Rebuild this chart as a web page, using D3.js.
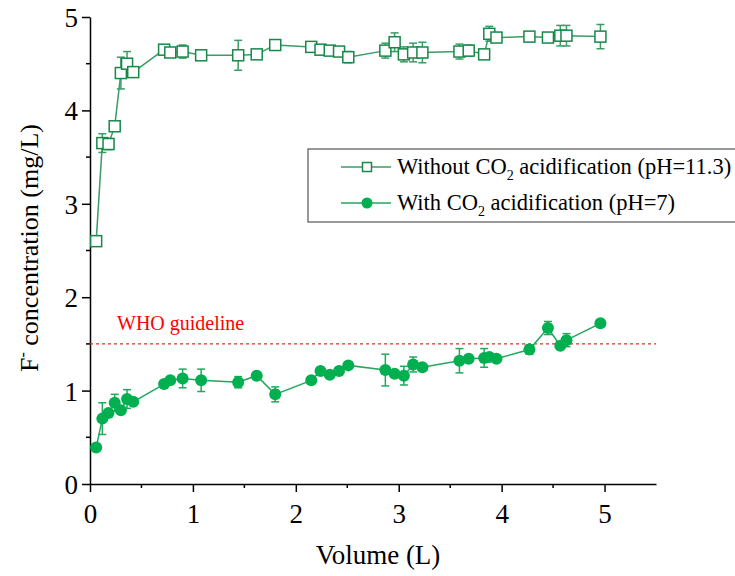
<!DOCTYPE html>
<html>
<head>
<meta charset="utf-8">
<script src="https://cdn.jsdelivr.net/npm/d3@7"></script>
<style>
  body { margin: 0; background: #fff; }
  text { font-family: "Liberation Serif", "Times New Roman", serif; }
</style>
</head>
<body>
<div id="myDiv"></div>
<script>
//Data
var volume = [0.06, 0.12, 0.18, 0.24, 0.30, 0.36, 0.42, 0.72, 0.78, 0.90, 1.08, 1.44, 1.62, 1.80,
  2.15, 2.24, 2.33, 2.42, 2.51, 2.87, 2.96, 3.05, 3.14, 3.23, 3.59, 3.68, 3.83, 3.88, 3.95,
  4.27, 4.45, 4.57, 4.63, 4.96];
var withoutCO2 = [2.60, 3.65, 3.64, 3.83, 4.40, 4.50, 4.41, 4.65, 4.62, 4.63, 4.59, 4.59, 4.60, 4.70,
  4.68, 4.65, 4.64, 4.63, 4.57, 4.64, 4.73, 4.60, 4.62, 4.62, 4.63, 4.64, 4.60, 4.82, 4.78,
  4.79, 4.78, 4.80, 4.80, 4.79];
var withoutErr = [0.02, 0.10, 0.06, 0.03, 0.17, 0.13, 0.04, 0.04, 0.05, 0.07, 0.03, 0.16, 0.05, 0.03,
  0.04, 0.04, 0.04, 0.03, 0.06, 0.08, 0.10, 0.08, 0.10, 0.11, 0.08, 0.06, 0.04, 0.08, 0.05,
  0.03, 0.04, 0.11, 0.11, 0.13];
var withCO2 = [0.39, 0.70, 0.76, 0.87, 0.79, 0.91, 0.88, 1.07, 1.11, 1.13, 1.11, 1.09, 1.16, 0.96,
  1.11, 1.21, 1.17, 1.21, 1.27, 1.22, 1.18, 1.16, 1.28, 1.25, 1.32, 1.34, 1.35, 1.36, 1.34,
  1.44, 1.67, 1.48, 1.54, 1.72];
var withErr = [0.03, 0.17, 0.03, 0.09, 0.03, 0.10, 0.03, 0.03, 0.03, 0.10, 0.12, 0.06, 0.03, 0.08,
  0.03, 0.03, 0.03, 0.03, 0.03, 0.17, 0.03, 0.10, 0.08, 0.03, 0.13, 0.03, 0.10, 0.03, 0.03,
  0.05, 0.07, 0.03, 0.07, 0.03];
var xTicks = [0, 1, 2, 3, 4, 5];
var yTicks = [0, 1, 2, 3, 4, 5];
var whoLimit = 1.5;
var legendLabels = ["Without CO", "With CO"];
var legendTails = [" acidification (pH=11.3)", " acidification (pH=7)"];

//Width and height
var w = 735;
var h = 576;
var sqColor = "#17874a";
var sqLine = "#3a9d66";
var ciColor = "#00b050";
var ciLine = "#22a85c";

var svg = d3.select("#myDiv")
  .append("svg")
  .attr("width", w)
  .attr("height", h);

var x = d3.scaleLinear().domain([0, 5.5]).range([90, 656]);
var y = d3.scaleLinear().domain([0, 5]).range([484, 17]);

//Axes with minor ticks
var xMinor = d3.range(0.5, 5.5, 1);
var yMinor = d3.range(0.5, 5, 1);

var gx = svg.append("g").attr("transform", "translate(0," + y(0) + ")");
gx.call(d3.axisBottom(x).tickValues(xTicks).tickSize(8).tickSizeOuter(0).tickFormat(d3.format("d")));
gx.selectAll(".minor").data(xMinor).enter().append("line")
  .attr("x1", function(d) { return x(d); })
  .attr("x2", function(d) { return x(d); })
  .attr("y1", 0).attr("y2", 4)
  .attr("stroke", "#000").attr("stroke-width", 1.5);

var gy = svg.append("g").attr("transform", "translate(" + x(0) + ",0)");
gy.call(d3.axisLeft(y).tickValues(yTicks).tickSize(8).tickSizeOuter(0).tickFormat(d3.format("d")));
gy.selectAll(".minor").data(yMinor).enter().append("line")
  .attr("y1", function(d) { return y(d); })
  .attr("y2", function(d) { return y(d); })
  .attr("x1", 0).attr("x2", -4)
  .attr("stroke", "#000").attr("stroke-width", 1.5);

svg.selectAll(".domain").attr("stroke", "#000").attr("stroke-width", 1.5);
svg.selectAll(".tick line").attr("stroke", "#000").attr("stroke-width", 1.5);
svg.selectAll(".tick text")
  .attr("font-family", "Liberation Serif")
  .attr("font-size", 27)
  .attr("fill", "#000");
gx.selectAll(".tick text").attr("dy", "1.05em");
gy.selectAll(".tick text").attr("x", -12).attr("dy", "0.35em");

//Axis titles
svg.append("text")
  .attr("x", x(2.75) + 5)
  .attr("y", 564)
  .attr("text-anchor", "middle")
  .attr("font-size", 27)
  .text("Volume (L)");

var yt = svg.append("text")
  .attr("transform", "translate(38," + 248 + ") rotate(-90)")
  .attr("text-anchor", "middle")
  .attr("font-size", 26);
yt.append("tspan").text("F");
yt.append("tspan").attr("dy", -10).attr("font-size", 16).text("-");
yt.append("tspan").attr("dy", 10).text(" concentration (mg/L)");

//WHO guideline
svg.append("line")
  .attr("x1", x(0)).attr("x2", x(5.5))
  .attr("y1", y(whoLimit)).attr("y2", y(whoLimit))
  .attr("stroke", "#e0302a")
  .attr("stroke-width", 1.2)
  .attr("stroke-dasharray", "3,3");
svg.append("text")
  .attr("x", 117).attr("y", 330)
  .attr("font-size", 20)
  .attr("fill", "#ff0000")
  .text("WHO guideline");

//Draw one series with error bars
function drawSeries(values, errs, lineColor, markColor, isSquare) {
  var pts = volume.map(function(v, i) { return {x: v, y: values[i], e: errs[i]}; });
  svg.append("path")
    .datum(pts)
    .attr("fill", "none")
    .attr("stroke", lineColor)
    .attr("stroke-width", 1.5)
    .attr("d", d3.line().x(function(d) { return x(d.x); }).y(function(d) { return y(d.y); }));

  var eb = svg.append("g").attr("stroke", lineColor).attr("stroke-width", 1.5);
  eb.selectAll(".v").data(pts).enter().append("line")
    .attr("x1", function(d) { return x(d.x); })
    .attr("x2", function(d) { return x(d.x); })
    .attr("y1", function(d) { return y(d.y - d.e); })
    .attr("y2", function(d) { return y(d.y + d.e); });
  [1, -1].forEach(function(s) {
    eb.selectAll(".c" + s).data(pts).enter().append("line")
      .attr("x1", function(d) { return x(d.x) - 4; })
      .attr("x2", function(d) { return x(d.x) + 4; })
      .attr("y1", function(d) { return y(d.y + s * d.e); })
      .attr("y2", function(d) { return y(d.y + s * d.e); });
  });

  if (isSquare) {
    svg.selectAll(".sq").data(pts).enter().append("rect")
      .attr("x", function(d) { return x(d.x) - 5.5; })
      .attr("y", function(d) { return y(d.y) - 5.5; })
      .attr("width", 11).attr("height", 11)
      .attr("fill", "#fff")
      .attr("stroke", markColor)
      .attr("stroke-width", 1.5);
  } else {
    svg.selectAll(".ci").data(pts).enter().append("circle")
      .attr("cx", function(d) { return x(d.x); })
      .attr("cy", function(d) { return y(d.y); })
      .attr("r", 6)
      .attr("fill", markColor);
  }
}

drawSeries(withoutCO2, withoutErr, sqLine, sqColor, true);
drawSeries(withCO2, withErr, ciLine, ciColor, false);

//Legend
svg.append("rect")
  .attr("x", 308).attr("y", 149)
  .attr("width", 440).attr("height", 73)
  .attr("fill", "#fff")
  .attr("stroke", "#555")
  .attr("stroke-width", 1.2);

var ly = [167, 203];
ly.forEach(function(yy, i) {
  svg.append("line")
    .attr("x1", 341).attr("x2", 391)
    .attr("y1", yy).attr("y2", yy)
    .attr("stroke", i == 0 ? sqLine : ciLine)
    .attr("stroke-width", 1.5);
  if (i == 0) {
    svg.append("rect")
      .attr("x", 362.5).attr("y", yy - 4.5)
      .attr("width", 9).attr("height", 9)
      .attr("fill", "#fff")
      .attr("stroke", sqColor)
      .attr("stroke-width", 1.5);
  } else {
    svg.append("circle")
      .attr("cx", 367).attr("cy", yy)
      .attr("r", 5.5)
      .attr("fill", ciColor);
  }
  var t = svg.append("text")
    .attr("x", 397).attr("y", yy + 7)
    .attr("font-size", 22.5)
    .attr("fill", "#000");
  t.append("tspan").text(legendLabels[i]);
  t.append("tspan").attr("dy", 6).attr("font-size", 14).text("2");
  t.append("tspan").attr("dy", -6).text(legendTails[i]);
});
</script>
</body>
</html>
